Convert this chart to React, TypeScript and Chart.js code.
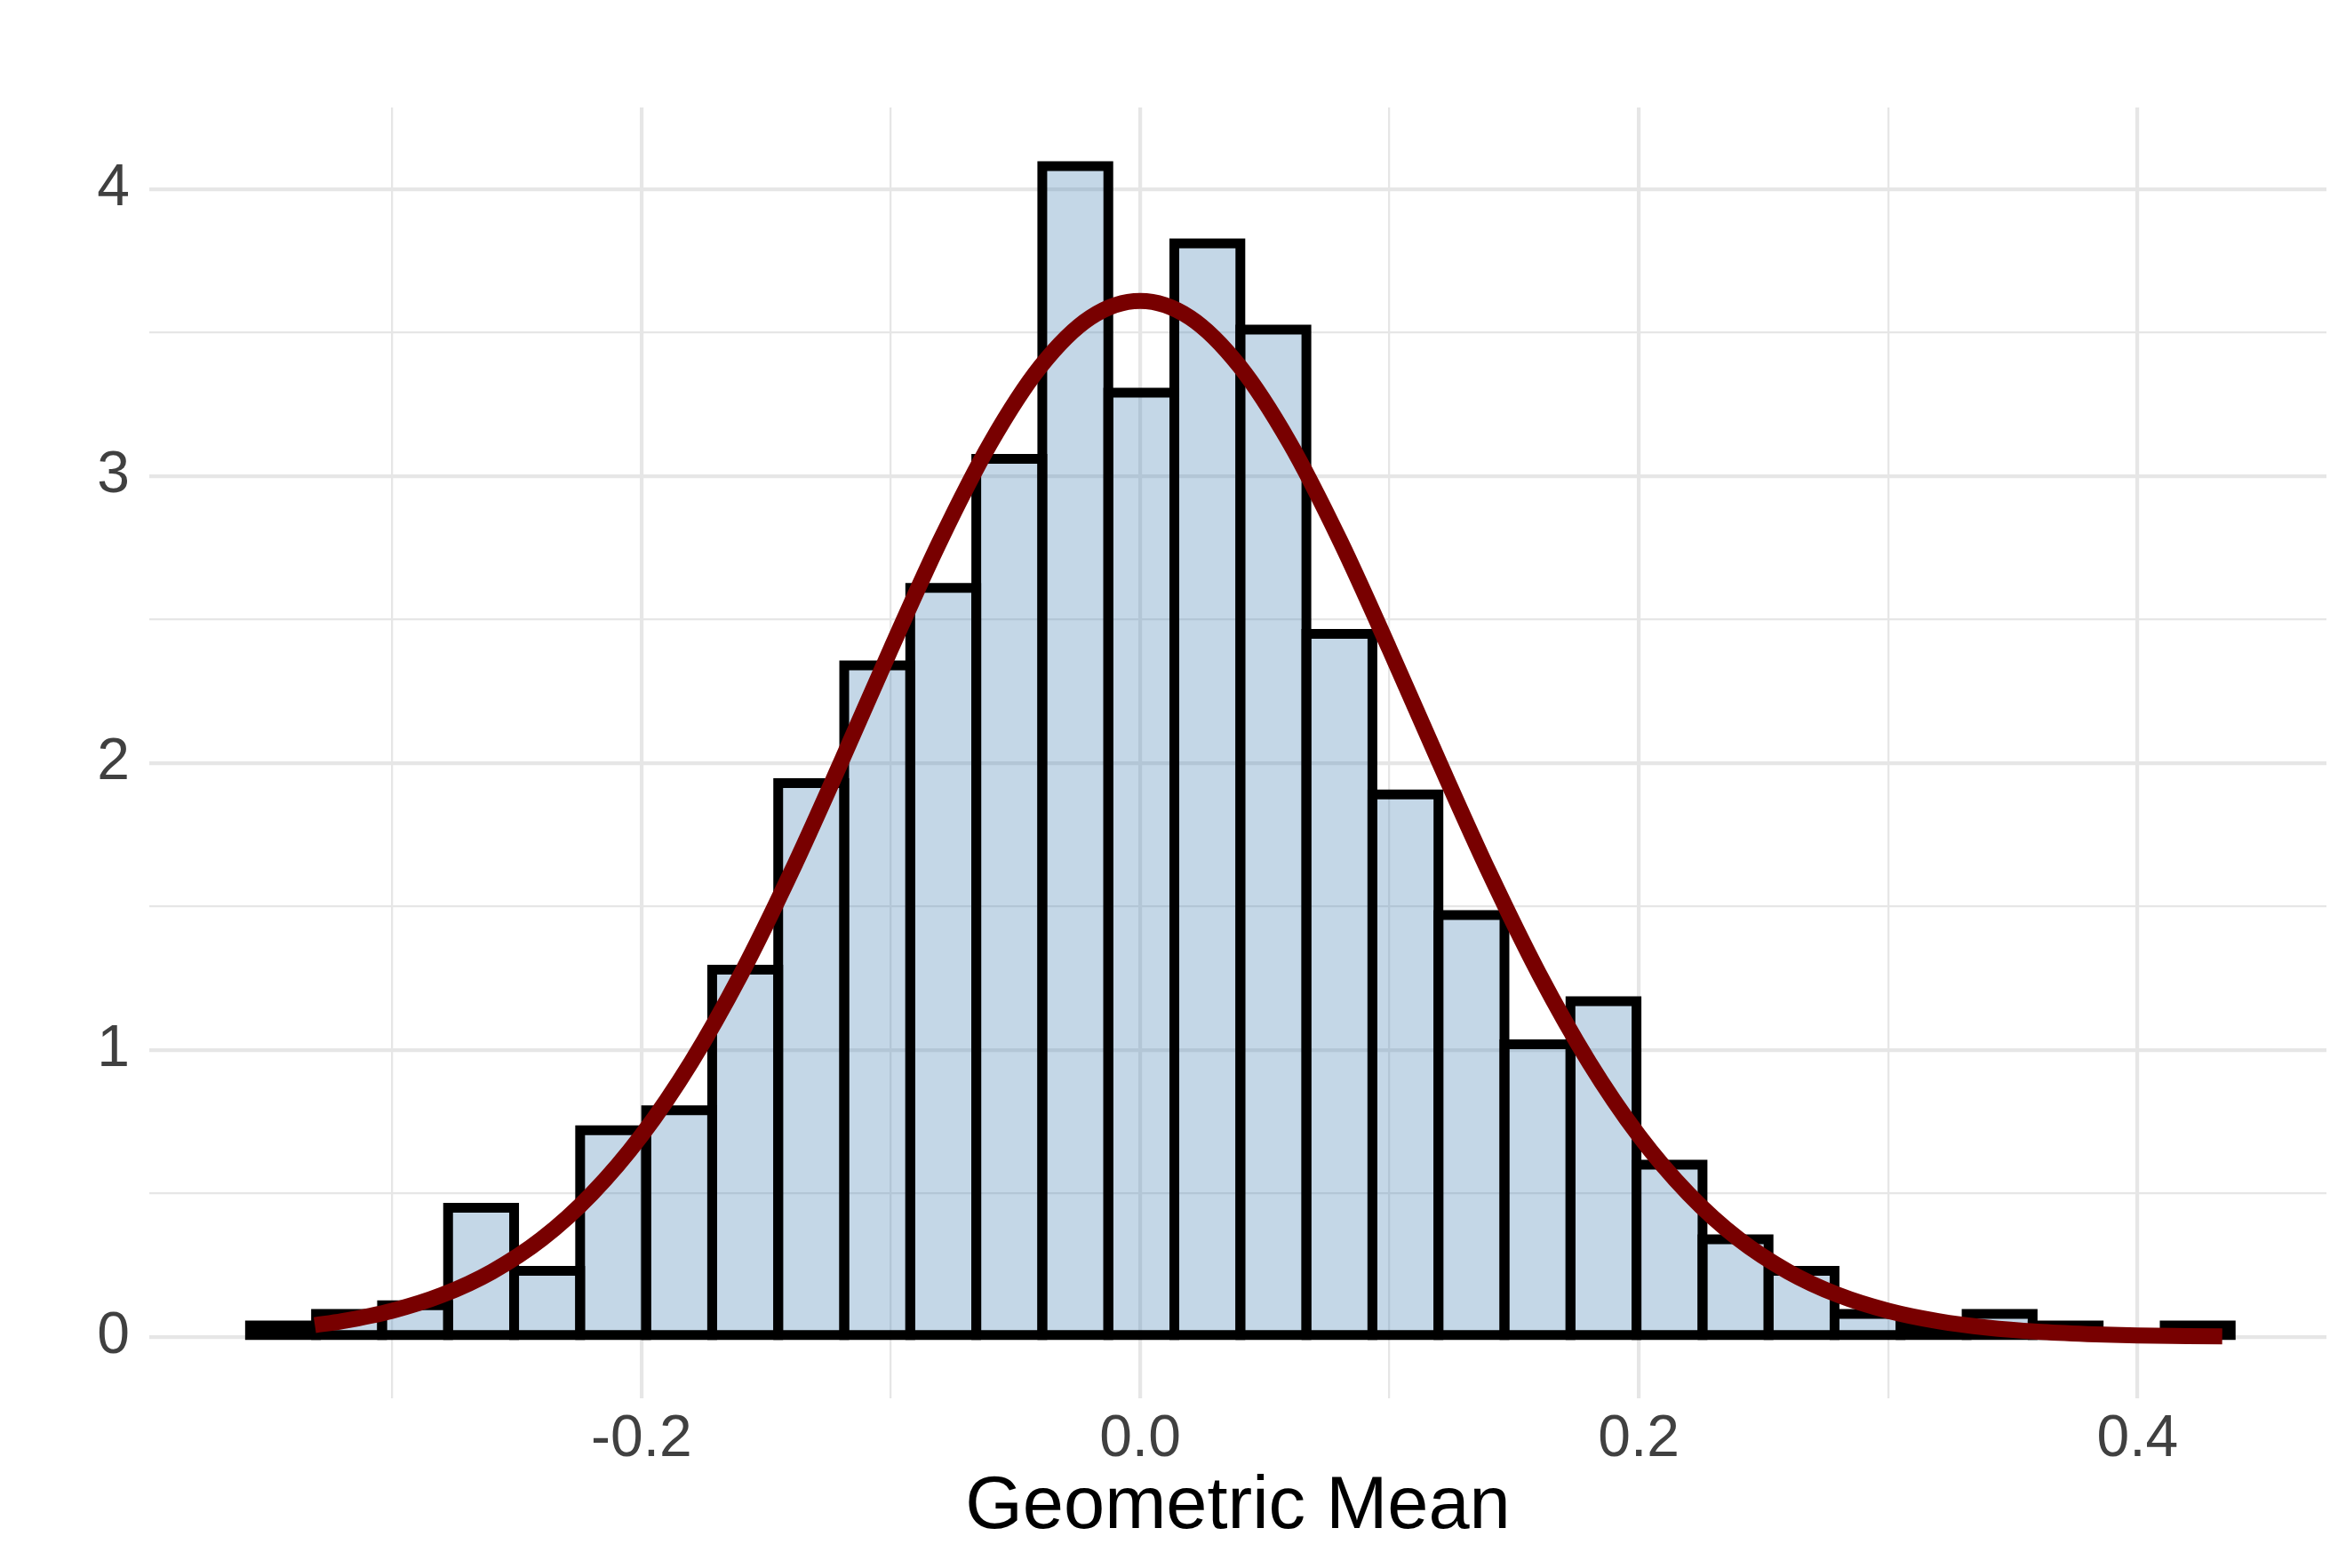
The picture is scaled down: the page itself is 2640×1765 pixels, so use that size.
import React, { useEffect, useRef } from "react";
import { Chart, registerables } from "chart.js";

Chart.register(...registerables);

// Histogram bins (density)
const BIN_FIRST_EDGE = -0.357;
const BIN_WIDTH = 0.02648;
const DENSITY = [
  0.04, 0.08, 0.11, 0.45, 0.23, 0.72, 0.79, 1.28, 1.93, 2.34,
  2.61, 3.06, 4.08, 3.29, 3.81, 3.51, 2.45, 1.89, 1.47, 1.02,
  1.17, 0.6, 0.34, 0.23, 0.08, 0.04, 0.08, 0.04, 0.0, 0.04,
];

// Fitted normal density curve
const CURVE_X = [
  -0.331, -0.32, -0.3, -0.28, -0.26, -0.24, -0.22, -0.2, -0.18, -0.16,
  -0.14, -0.12, -0.1, -0.08, -0.06, -0.04, -0.02, 0.0, 0.02, 0.04,
  0.06, 0.08, 0.1, 0.12, 0.14, 0.16, 0.18, 0.2, 0.22, 0.24,
  0.26, 0.28, 0.3, 0.32, 0.34, 0.36, 0.38, 0.4, 0.42, 0.434,
];
const CURVE_Y = [
  0.041, 0.055, 0.091, 0.146, 0.227, 0.341, 0.498, 0.702, 0.958, 1.265,
  1.618, 2.002, 2.397, 2.778, 3.115, 3.381, 3.552, 3.61, 3.552, 3.381,
  3.115, 2.778, 2.397, 2.002, 1.618, 1.265, 0.958, 0.702, 0.498, 0.341,
  0.227, 0.146, 0.091, 0.055, 0.032, 0.018, 0.01, 0.005, 0.003, 0.002,
];

// Axes
const X_MAJOR = [-0.2, 0.0, 0.2, 0.4];
const X_LABELS = ["-0.2", "0.0", "0.2", "0.4"];
const X_MINOR = [-0.3, -0.1, 0.1, 0.3];
const Y_MAJOR = [0, 1, 2, 3, 4];
const Y_LABELS = ["0", "1", "2", "3", "4"];
const Y_MINOR = [0.5, 1.5, 2.5, 3.5];
const X_TITLE = "Geometric Mean";

const FONT = "'Liberation Sans', Arial, Helvetica, sans-serif";
const GRID = "#E6E6E6";
const TICK_COLOR = "#404040";

const isIn = (arr: number[], v: number) => arr.some((a) => Math.abs(a - v) < 1e-9);
const labelFor = (vals: number[], labels: string[], v: number) => {
  const i = vals.findIndex((a) => Math.abs(a - v) < 1e-9);
  return i >= 0 ? labels[i] : "";
};

const barOutline = {
  id: "barOutline",
  afterDatasetDraw(chart: any, args: any) {
    if (args.index !== 0) return;
    const ctx = chart.ctx;
    ctx.save();
    ctx.strokeStyle = "#000000";
    ctx.lineWidth = 11;
    ctx.lineJoin = "miter";
    for (const el of args.meta.data) {
      const p = el.getProps(["x", "y", "base", "width"], true);
      const top = Math.min(p.y, p.base);
      const h = Math.abs(p.base - p.y);
      ctx.beginPath();
      ctx.rect(p.x - p.width / 2, top, p.width, h);
      ctx.stroke();
    }
    ctx.restore();
  },
};

export default function App() {
  const ref = useRef<HTMLCanvasElement>(null);

  useEffect(() => {
    document.body.style.margin = "0";
    const barData = DENSITY.map((d, i) => ({
      x: BIN_FIRST_EDGE + BIN_WIDTH * (i + 0.5),
      y: d,
    }));
    const curveData = CURVE_X.map((x, i) => ({ x, y: CURVE_Y[i] }));

    const chart = new Chart(ref.current as HTMLCanvasElement, {
      type: "bar",
      data: {
        datasets: [
          {
            type: "bar",
            data: barData as any,
            backgroundColor: "rgba(70,130,180,0.32)",
            borderWidth: 0,
            barPercentage: 1,
            categoryPercentage: 1,
            order: 2,
          } as any,
          {
            type: "line",
            data: curveData as any,
            borderColor: "#780000",
            borderWidth: 18,
            borderCapStyle: "butt",
            pointRadius: 0,
            fill: false,
            cubicInterpolationMode: "monotone",
            order: 1,
          } as any,
        ],
      },
      plugins: [barOutline],
      options: {
        responsive: false,
        devicePixelRatio: 1,
        animation: false,
        layout: { padding: { top: 121, right: 22, left: 0, bottom: 0 } },
        plugins: { legend: { display: false }, tooltip: { enabled: false } },
        scales: {
          x: {
            type: "linear",
            min: -0.3974,
            max: 0.4758,
            offset: false,
            afterBuildTicks: (s: any) => {
              s.ticks = [...X_MINOR, ...X_MAJOR].sort((a, b) => a - b).map((v) => ({ value: v }));
            },
            afterFit: (s: any) => {
              s.height = 191;
            },
            grid: {
              offset: false,
              drawTicks: false,
              color: GRID,
              lineWidth: (c: any) => (c.tick && isIn(X_MAJOR, c.tick.value) ? 4.2 : 2.3),
            },
            border: { display: false },
            ticks: {
              autoSkip: false,
              maxRotation: 0,
              padding: 7,
              color: TICK_COLOR,
              font: { family: FONT, size: 66 },
              callback: (v: any) => labelFor(X_MAJOR, X_LABELS, Number(v)),
            },
            title: {
              display: true,
              text: X_TITLE,
              color: "#000000",
              font: { family: FONT, size: 83 },
              padding: { top: 0, bottom: 18 },
            },
          },
          y: {
            type: "linear",
            min: -0.214,
            max: 4.284,
            afterBuildTicks: (s: any) => {
              s.ticks = [...Y_MINOR, ...Y_MAJOR].sort((a, b) => a - b).map((v) => ({ value: v }));
            },
            afterFit: (s: any) => {
              s.width = 168;
            },
            grid: {
              drawTicks: false,
              color: GRID,
              lineWidth: (c: any) => (c.tick && isIn(Y_MAJOR, c.tick.value) ? 4.2 : 2.3),
            },
            border: { display: false },
            ticks: {
              autoSkip: false,
              padding: 22,
              color: TICK_COLOR,
              font: { family: FONT, size: 66 },
              callback: (v: any) => labelFor(Y_MAJOR, Y_LABELS, Number(v)),
            },
          },
        },
      } as any,
    });
    return () => chart.destroy();
  }, []);

  return (
    <div style={{ width: 2640, height: 1765, position: "relative", background: "#ffffff" }}>
      <canvas ref={ref} width={2640} height={1765} style={{ display: "block" }} />
    </div>
  );
}
